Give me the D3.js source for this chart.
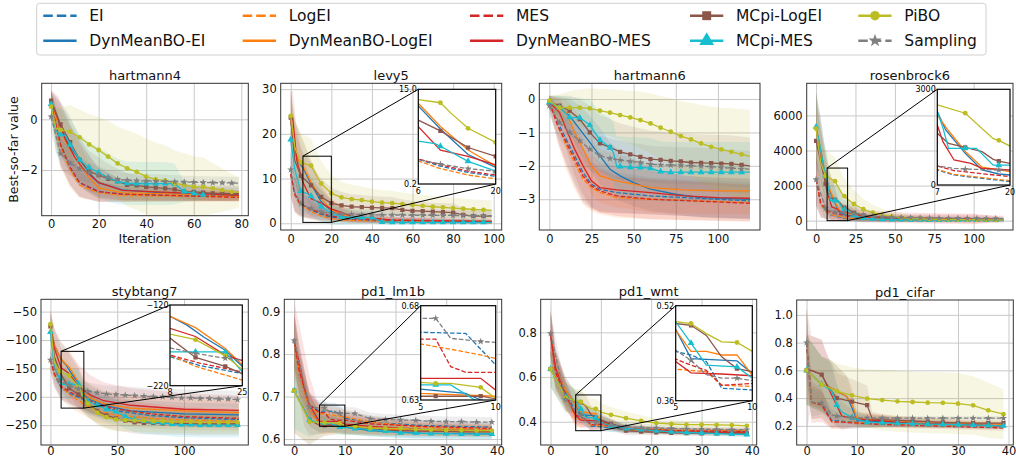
<!DOCTYPE html>
<html>
<head>
<meta charset="utf-8">
<script src="https://cdn.jsdelivr.net/npm/d3@7"></script>
<style>
body{margin:0;background:#fff}
svg{display:block;font-family:"DejaVu Sans",sans-serif}
</style>
</head>
<body>
<svg id="chart" width="1016" height="458"></svg>
<script>
// methods in legend order, every panel array below uses the same order
let methods = ['EI','DynMeanBO-EI','LogEI','DynMeanBO-LogEI','MES','DynMeanBO-MES','MCpi-LogEI','MCpi-MES','PiBO','Sampling']
let colors = ['#1f77b4','#1f77b4','#ff7f0e','#ff7f0e','#d62728','#d62728','#8c564b','#17becf','#bcbd22','#7f7f7f']
let dashed = [true,false,true,false,true,false,false,false,false,true]
let markers = [null,null,null,null,null,null,'square','triangle','circle','star']

let titles = ['hartmann4','levy5','hartmann6','rosenbrock6','stybtang7','pd1_lm1b','pd1_wmt','pd1_cifar']
let xTicks = [[0,20,40,60,80],[0,20,40,60,80,100],[0,25,50,75,100],[0,25,50,75,100],[0,50,100],[0,10,20,30,40],[0,10,20,30,40],[0,10,20,30,40]]
let yTicks = [[-2,0],[0,10,20,30],[-3,-2,-1,0],[0,2000,4000,6000],[-250,-200,-150,-100,-50],[0.6,0.7,0.8,0.9],[0.4,0.6,0.8],[0.2,0.4,0.6,0.8,1.0]]
let yFormats = ['d','d','d','d','d','.1f','.1f','.1f']
let markEvery = [4,5,6,6,7,3,3,3]
// zoomed windows: [x from, x to, y from, y to] and their corner labels
let insetRanges = [null,[6,20,0.2,15],null,[7,20,0,3000],[8,25,-220,-120],[5,10,0.63,0.68],[5,10,0.36,0.52],null]
let insetTicks = [null,['6','20','0.2','15.0'],null,['7','20','0','3000'],['8','25','−220','−120'],['5','10','0.63','0.68'],['5','10','0.36','0.52'],null]

// every point: [iteration, mean best-so-far, std]
let hartmann4 = [
  [[0,0.6,0.5],[4,-1.0,0.8],[8,-1.9,0.7],[12,-2.5,0.55],[20,-2.85,0.4],[30,-2.95,0.3],[50,-3.0,0.22],[79,-3.02,0.2]],
  [[0,0.7,0.4],[4,-0.3,0.9],[8,-1.1,0.9],[12,-1.6,0.8],[16,-2.1,0.7],[20,-2.5,0.55],[30,-2.78,0.4],[50,-2.92,0.3],[79,-2.96,0.25]],
  [[0,0.6,0.5],[4,-1.1,0.8],[8,-2.0,0.7],[12,-2.6,0.5],[20,-2.9,0.35],[30,-3.0,0.25],[79,-3.05,0.18]],
  [[0,0.7,0.4],[4,-0.5,0.9],[8,-1.2,0.9],[12,-1.8,0.8],[16,-2.3,0.6],[20,-2.7,0.45],[30,-2.9,0.3],[79,-3.0,0.2]],
  [[0,0.6,0.5],[4,-1.0,0.8],[8,-1.9,0.7],[12,-2.5,0.55],[20,-2.85,0.4],[30,-2.95,0.3],[79,-3.08,0.15]],
  [[0,0.7,0.45],[3,0.0,0.9],[6,-0.8,1.0],[10,-1.5,0.9],[14,-2.0,0.8],[20,-2.5,0.6],[30,-2.8,0.4],[79,-3.0,0.2]],
  [[0,0.74,0.4],[4,-0.2,0.9],[8,-0.9,1.0],[12,-1.6,0.9],[16,-2.05,0.8],[20,-2.2,0.7],[24,-2.35,0.6],[28,-2.45,0.5],[32,-2.58,0.45],[36,-2.6,0.4],[40,-2.66,0.4],[44,-2.69,0.35],[48,-2.72,0.35],[52,-2.76,0.3],[56,-2.85,0.3],[60,-2.86,0.3],[64,-2.89,0.3],[68,-2.92,0.3],[72,-2.92,0.3],[76,-2.93,0.3],[79,-2.93,0.3]],
  [[0,0.6,0.5],[2,-0.45,0.9],[4,-0.6,1.0],[6,-0.65,1.0],[8,-1.0,1.0],[12,-1.6,1.0],[16,-1.9,1.0],[20,-2.1,1.0],[24,-2.3,0.95],[28,-2.45,0.9],[32,-2.52,0.85],[36,-2.53,0.85],[40,-2.53,0.85],[44,-2.53,0.85],[48,-2.53,0.85],[52,-2.55,0.8],[56,-2.85,0.4],[60,-2.92,0.3],[64,-2.98,0.25]],
  [[0,0.5,0.3],[2,-0.35,0.8],[4,-0.42,0.9],[8,-0.49,1.06],[12,-0.71,1.1],[16,-0.99,1.2],[20,-1.21,1.3],[24,-1.47,1.4],[28,-1.74,1.45],[32,-1.93,1.5],[36,-2.07,1.5],[40,-2.26,1.5],[44,-2.37,1.45],[48,-2.42,1.4],[52,-2.53,1.3],[56,-2.59,1.25],[60,-2.66,1.2],[64,-2.66,1.15],[68,-2.72,1.0],[72,-2.79,0.85],[76,-2.86,0.7],[79,-2.87,0.6]],
  [[0,0.1,0.6],[4,-1.35,0.6],[8,-1.72,0.5],[12,-1.95,0.45],[16,-2.1,0.4],[20,-2.2,0.35],[24,-2.3,0.3],[28,-2.36,0.3],[32,-2.4,0.28],[36,-2.42,0.28],[40,-2.43,0.27],[44,-2.44,0.27],[48,-2.45,0.26],[52,-2.46,0.26],[56,-2.47,0.25],[60,-2.48,0.25],[64,-2.49,0.25],[68,-2.5,0.25],[72,-2.5,0.25],[76,-2.51,0.25],[79,-2.52,0.25]]
]

let levy5 = [
  [[0,11,5],[2,6.5,4],[4,4.8,3],[6,4.05,2.5],[10,3.0,2],[15,2.0,1.5],[20,1.4,1.1],[30,0.8,0.7],[50,0.4,0.4],[99,0.2,0.3]],
  [[0,23,6],[2,16,7],[4,13.5,7],[6,12.4,6],[10,8.8,5],[15,4.8,3.5],[20,2.8,2.2],[25,1.8,1.6],[30,1.2,1.1],[50,0.6,0.6],[99,0.3,0.4]],
  [[0,11,5],[2,6.3,4],[4,4.5,3],[6,3.8,2.5],[10,2.6,1.8],[15,1.6,1.2],[20,1.0,0.8],[30,0.6,0.5],[99,0.15,0.3]],
  [[0,23,6],[2,16,7],[4,13.8,7],[6,12.8,6],[10,9.2,5],[15,5.5,3.5],[20,3.0,2.3],[25,2.0,1.7],[30,1.4,1.2],[50,0.7,0.7],[99,0.4,0.4]],
  [[0,11,5],[2,6.5,4],[4,4.9,3],[6,4.1,2.5],[10,3.2,2],[15,2.2,1.5],[20,1.6,1.1],[30,0.9,0.7],[99,0.3,0.4]],
  [[0,23.5,6],[1,23.5,6],[3,14,7],[6,9.15,6],[10,5.5,4],[15,4.5,3],[20,3.2,2.2],[30,1.6,1.3],[50,0.7,0.7],[99,0.4,0.4]],
  [[0,23.6,6],[2,14,7],[5,10.6,6],[10,8.5,5],[15,5.9,4],[20,4.5,3.5],[25,4.0,3],[30,3.7,2.8],[35,3.6,2.7],[40,3.5,2.6],[45,3.45,2.5],[50,3.4,2.5],[55,3.0,2.3],[60,2.8,2.2],[65,2.7,2.1],[70,2.6,2],[75,2.5,2],[80,2.4,2],[85,1.9,1.7],[90,1.6,1.5],[95,1.6,1.5],[99,1.6,1.5]],
  [[0,18.7,6],[2,12,6],[5,7.2,5],[6,6.9,4.8],[9,6.5,4.5],[10,6.1,4.3],[15,3.75,3.5],[20,2.2,2.5],[25,1.4,1.8],[30,1.35,1.6],[35,1.3,1.5],[40,1.3,1.4],[45,0.3,0.6],[50,0.25,0.5],[55,0.25,0.5],[60,0.2,0.4],[65,0.2,0.4],[70,0.2,0.4],[75,0.2,0.4],[80,0.2,0.4],[85,0.2,0.4],[90,0.2,0.4],[95,0.2,0.4],[99,0.2,0.4]],
  [[0,24,5],[2,17,6],[5,13.6,6.5],[6,13.4,6.5],[10,12.9,6],[12,11.2,5.5],[15,8.9,5],[20,6.7,4],[25,5.8,3.5],[30,5.4,3.2],[35,5.2,3],[40,4.85,2.9],[45,4.6,2.8],[50,4.5,2.7],[55,4.3,2.6],[60,4.1,2.5],[65,3.9,2.5],[70,3.7,2.4],[75,3.55,2.4],[80,3.4,2.3],[85,3.25,2.3],[90,3.1,2.2],[95,3.0,2.2],[99,2.9,2.2]],
  [[0,12,4],[2,7,4],[5,4.4,3],[6,4.05,2.8],[10,3.3,2.3],[15,2.6,1.8],[20,2.2,1.5],[25,2.1,1.4],[30,2.0,1.4],[35,1.95,1.3],[40,1.9,1.3],[45,1.9,1.3],[50,1.85,1.3],[55,1.85,1.2],[60,1.8,1.2],[65,1.8,1.2],[70,1.8,1.2],[75,1.75,1.2],[80,1.75,1.2],[85,1.7,1.2],[90,1.7,1.2],[95,1.7,1.2],[99,1.7,1.2]]
]

let hartmann6 = [
  [[0,-0.1,0.2],[5,-0.7,0.5],[10,-1.2,0.7],[15,-1.7,0.8],[20,-2.2,0.8],[25,-2.55,0.7],[30,-2.7,0.65],[40,-2.8,0.6],[60,-2.9,0.55],[80,-2.95,0.55],[119,-3.05,0.55]],
  [[0,-0.1,0.2],[6,-0.25,0.3],[12,-0.5,0.5],[18,-0.9,0.7],[24,-1.3,0.8],[30,-1.7,0.85],[36,-2.1,0.8],[42,-2.3,0.75],[50,-2.5,0.7],[60,-2.7,0.65],[75,-2.85,0.6],[90,-2.95,0.6],[119,-3.0,0.6]],
  [[0,-0.1,0.2],[5,-0.8,0.5],[10,-1.4,0.7],[15,-1.9,0.8],[20,-2.4,0.75],[25,-2.65,0.7],[30,-2.8,0.65],[40,-2.95,0.6],[60,-3.0,0.6],[119,-3.1,0.55]],
  [[0,-0.1,0.2],[10,-0.4,0.4],[15,-1.0,0.7],[20,-1.5,0.8],[25,-2.0,0.85],[30,-2.3,0.8],[40,-2.45,0.8],[50,-2.55,0.75],[60,-2.65,0.75],[80,-2.72,0.7],[100,-2.75,0.7],[119,-2.75,0.7]],
  [[0,-0.1,0.2],[5,-0.8,0.5],[10,-1.3,0.7],[15,-1.8,0.8],[20,-2.3,0.8],[25,-2.6,0.7],[30,-2.75,0.65],[40,-2.9,0.6],[60,-3.0,0.6],[119,-3.12,0.55]],
  [[0,-0.1,0.2],[6,-0.4,0.4],[10,-0.9,0.6],[15,-1.5,0.8],[20,-2.0,0.85],[25,-2.45,0.8],[30,-2.65,0.75],[40,-2.72,0.7],[60,-2.8,0.65],[80,-2.9,0.6],[100,-2.95,0.6],[119,-2.97,0.6]],
  [[0,-0.1,0.2],[6,-0.2,0.3],[12,-0.35,0.45],[18,-0.6,0.6],[24,-1.0,0.8],[30,-1.33,0.85],[36,-1.45,0.85],[42,-1.58,0.85],[48,-1.66,0.85],[54,-1.73,0.85],[60,-1.8,0.85],[66,-1.82,0.85],[72,-1.85,0.85],[78,-1.87,0.85],[84,-1.9,0.85],[90,-1.91,0.85],[96,-1.92,0.85],[102,-1.93,0.85],[108,-1.94,0.85],[114,-1.97,0.85],[119,-2.0,0.85]],
  [[0,-0.1,0.2],[6,-0.25,0.35],[12,-0.55,0.6],[18,-0.56,0.6],[24,-0.78,0.75],[30,-1.23,0.85],[36,-1.45,0.9],[38,-1.6,0.9],[40,-2.02,0.9],[42,-2.02,0.9],[48,-2.04,0.9],[54,-2.05,0.9],[60,-2.07,0.9],[66,-2.17,0.9],[72,-2.19,0.9],[78,-2.19,0.9],[84,-2.19,0.9],[90,-2.19,0.9],[96,-2.19,0.9],[102,-2.19,0.9],[108,-2.19,0.9],[114,-2.19,0.9],[119,-2.19,0.9]],
  [[0,-0.05,0.15],[6,-0.26,0.4],[12,-0.26,0.5],[18,-0.26,0.55],[24,-0.28,0.6],[30,-0.35,0.65],[36,-0.41,0.7],[42,-0.48,0.75],[48,-0.55,0.8],[54,-0.63,0.85],[60,-0.73,0.9],[66,-0.86,0.95],[72,-0.98,1.0],[78,-1.11,1.05],[84,-1.21,1.1],[90,-1.33,1.15],[96,-1.43,1.2],[102,-1.51,1.25],[108,-1.58,1.3],[114,-1.66,1.35],[119,-1.72,1.4]],
  [[0,-0.2,0.3],[6,-0.7,0.5],[12,-1.0,0.6],[18,-1.25,0.65],[24,-1.5,0.65],[30,-1.7,0.6],[36,-1.78,0.6],[42,-1.83,0.58],[48,-1.87,0.56],[54,-1.9,0.55],[60,-1.95,0.55],[66,-1.97,0.55],[72,-1.98,0.55],[78,-1.99,0.55],[84,-2.0,0.55],[90,-2.01,0.55],[96,-2.03,0.55],[102,-2.05,0.55],[108,-2.07,0.55],[114,-2.09,0.55],[119,-2.1,0.55]]
]

let rosenbrock6 = [
  [[0,2350,1500],[3,900,700],[7,470,400],[10,314,300],[20,105,150],[40,60,100],[119,30,60]],
  [[0,5300,2000],[3,4000,1800],[5,3000,1500],[7,2300,1300],[8.5,1725,1100],[12,993,800],[15,470,500],[18,345,400],[20,314,350],[30,150,200],[60,70,120],[119,30,60]],
  [[0,2350,1500],[3,900,700],[7,490,400],[10,330,300],[20,136,160],[40,70,100],[119,30,60]],
  [[0,5300,2000],[3,4000,1800],[5,3000,1500],[7,2195,1300],[9,1700,1100],[12,1050,800],[15,560,500],[20,418,400],[30,180,220],[60,80,130],[119,35,60]],
  [[0,2350,1500],[3,1000,800],[7,596,500],[10,450,400],[20,261,250],[40,150,200],[100,100,250],[119,80,200]],
  [[0,5300,2000],[3,3500,1800],[5,2600,1500],[7,1880,1300],[8,1360,1100],[10,784,800],[13,680,600],[15,523,500],[20,470,450],[30,250,350],[60,150,300],[100,100,300],[119,80,120]],
  [[0,4550,2200],[6,2100,1500],[7,1620,1300],[9,1307,1100],[12,1181,900],[15,1045,800],[17,805,700],[18,750,650],[20,680,600],[24,450,450],[30,300,350],[36,220,250],[42,170,200],[48,140,180],[54,120,160],[60,110,150],[66,100,140],[72,90,130],[78,85,120],[84,80,110],[90,75,100],[96,70,100],[102,65,90],[108,60,90],[114,55,80],[119,55,80]],
  [[0,5350,2000],[3,4000,1800],[5,3000,1600],[6,2600,1500],[7,2300,1400],[8,1800,1200],[9,1150,900],[12,1150,900],[14,1150,850],[17,620,550],[18,620,550],[20,620,550],[24,300,350],[30,150,200],[36,100,150],[42,80,130],[48,70,120],[54,60,110],[60,50,100],[66,45,90],[72,40,80],[78,40,80],[84,35,70],[90,35,70],[96,30,60],[102,30,60],[108,30,60],[114,30,60],[119,30,60]],
  [[0,5250,1800],[3,3300,1600],[6,2550,1500],[7,2509,1450],[12,2250,1350],[17,1450,1100],[18,1400,1050],[20,1220,950],[24,950,800],[30,650,600],[36,460,450],[42,330,350],[48,230,280],[54,170,220],[60,130,180],[66,110,150],[72,90,130],[78,80,110],[84,70,100],[90,60,90],[96,55,80],[102,50,70],[108,45,60],[114,40,55],[119,40,50]],
  [[0,2350,1300],[6,700,600],[7,596,500],[10,523,400],[12,500,380],[18,470,350],[20,460,340],[24,400,300],[30,320,250],[36,260,220],[42,220,200],[48,200,190],[54,185,180],[60,170,170],[66,160,160],[72,150,150],[78,145,150],[84,140,140],[90,135,140],[96,130,130],[102,125,130],[108,120,120],[114,115,120],[119,110,120]]
]

let stybtang7 = [
  [[0,-135,20],[3,-160,22],[8,-184,22],[15,-195,20],[25,-205,20],[35,-215,18],[50,-225,18],[75,-233,17],[100,-237,17],[141,-240,16]],
  [[0,-75,25],[3,-110,30],[8,-134,30],[12,-145,30],[16,-160,28],[21,-176,26],[25,-196,25],[30,-205,24],[40,-215,22],[60,-225,20],[100,-230,20],[141,-232,20]],
  [[0,-135,20],[3,-162,22],[8,-182,22],[14,-196,22],[25,-213,20],[35,-225,20],[50,-233,18],[75,-238,18],[100,-241,18],[141,-243,17]],
  [[0,-75,25],[3,-110,30],[8,-134,30],[14,-148,30],[21,-174,28],[25,-194,26],[30,-203,25],[40,-212,23],[60,-220,22],[100,-225,22],[141,-228,22]],
  [[0,-135,20],[3,-160,22],[8,-182,22],[15,-192,20],[25,-203,20],[35,-213,19],[50,-222,18],[75,-230,18],[100,-235,18],[141,-238,17]],
  [[0,-75,30],[3,-115,35],[8,-149,35],[14,-159,38],[21,-182,38],[25,-189,38],[30,-197,35],[40,-207,32],[60,-215,30],[100,-222,28],[141,-224,26]],
  [[0,-76,25],[3,-130,30],[7,-155,28],[8,-161,28],[14,-185,26],[21,-196,25],[25,-205,24],[28,-212,24],[35,-225,22],[42,-233,22],[49,-238,21],[56,-242,20],[63,-245,20],[70,-246,20],[77,-246,20],[84,-247,20],[91,-247,20],[98,-247,20],[105,-248,20],[112,-248,20],[119,-248,20],[126,-248,20],[133,-248,20],[140,-248,20],[141,-248,20]],
  [[0,-86,25],[3,-150,25],[7,-168,25],[8,-178,25],[14,-178,25],[21,-178,25],[25,-203,25],[28,-208,24],[35,-215,23],[42,-222,23],[49,-226,22],[56,-235,22],[63,-240,22],[70,-243,22],[77,-245,22],[84,-246,22],[91,-248,22],[98,-249,22],[105,-249,22],[112,-250,22],[119,-250,22],[126,-250,22],[133,-250,22],[140,-250,22],[141,-250,22]],
  [[0,-72,20],[3,-140,25],[7,-155,25],[14,-163,25],[21,-183,24],[25,-200,23],[28,-212,22],[35,-228,22],[42,-236,21],[49,-240,21],[56,-241,20],[63,-242,20],[70,-242,20],[77,-243,20],[84,-243,20],[91,-244,20],[98,-244,20],[105,-244,20],[112,-245,20],[119,-245,20],[126,-245,20],[133,-245,20],[140,-245,20],[141,-245,20]],
  [[0,-135,15],[7,-172,15],[14,-180,15],[21,-186,15],[28,-190,15],[35,-193,15],[42,-195,15],[49,-196,15],[56,-197,15],[63,-198,15],[70,-199,15],[77,-200,15],[84,-200,15],[91,-201,15],[98,-202,15],[105,-202,15],[112,-203,15],[119,-203,15],[126,-204,15],[133,-204,15],[140,-205,15],[141,-205,15]]
]

let pd1_lm1b = [
  [[0,0.83,0.06],[1,0.75,0.05],[3,0.68,0.03],[5,0.6659,0.02],[8,0.6653,0.02],[10,0.6486,0.018],[15,0.64,0.015],[25,0.632,0.013],[39,0.628,0.012]],
  [[0,0.83,0.07],[1,0.76,0.06],[3,0.67,0.04],[5,0.6358,0.02],[8,0.6335,0.018],[9,0.63,0.017],[15,0.62,0.014],[25,0.614,0.012],[39,0.612,0.012]],
  [[0,0.83,0.06],[1,0.75,0.05],[3,0.675,0.03],[5,0.6597,0.02],[7,0.6569,0.02],[9,0.6539,0.018],[10,0.652,0.018],[15,0.64,0.015],[25,0.628,0.013],[39,0.622,0.012]],
  [[0,0.83,0.07],[1,0.76,0.06],[3,0.67,0.04],[5,0.6335,0.02],[10,0.632,0.017],[15,0.626,0.015],[25,0.62,0.013],[39,0.618,0.012]],
  [[0,0.83,0.06],[1,0.76,0.05],[3,0.68,0.03],[5,0.6623,0.02],[6,0.6623,0.02],[7,0.6477,0.018],[8,0.6447,0.018],[10,0.6447,0.017],[15,0.636,0.015],[25,0.63,0.013],[39,0.625,0.012]],
  [[0,0.83,0.09],[1,0.78,0.09],[2,0.72,0.09],[3,0.68,0.07],[5,0.6415,0.03],[9,0.6415,0.025],[10,0.6353,0.022],[15,0.63,0.018],[25,0.623,0.014],[39,0.62,0.012]],
  [[0,0.714,0.1],[3,0.645,0.06],[5,0.632,0.03],[6,0.632,0.025],[9,0.632,0.02],[12,0.628,0.017],[15,0.624,0.015],[18,0.621,0.014],[21,0.62,0.013],[24,0.619,0.013],[27,0.618,0.012],[30,0.618,0.012],[33,0.617,0.012],[36,0.617,0.012],[39,0.617,0.012]],
  [[0,0.714,0.09],[3,0.645,0.04],[5,0.638,0.025],[6,0.638,0.022],[7,0.638,0.02],[9,0.628,0.018],[12,0.625,0.016],[15,0.622,0.015],[18,0.619,0.014],[21,0.615,0.013],[24,0.614,0.013],[27,0.613,0.012],[30,0.613,0.012],[33,0.612,0.012],[36,0.612,0.012],[39,0.612,0.012]],
  [[0,0.714,0.1],[3,0.6405,0.05],[6,0.6388,0.03],[7,0.6388,0.028],[9,0.6367,0.025],[10,0.6309,0.022],[12,0.63,0.02],[15,0.626,0.018],[18,0.625,0.017],[21,0.625,0.016],[24,0.623,0.015],[27,0.622,0.015],[30,0.621,0.014],[33,0.621,0.014],[36,0.62,0.014],[39,0.62,0.014]],
  [[0,0.832,0.06],[3,0.676,0.02],[5,0.6733,0.018],[6,0.6733,0.018],[7,0.6627,0.016],[9,0.661,0.015],[10,0.6606,0.015],[12,0.66,0.015],[15,0.648,0.014],[18,0.646,0.013],[21,0.645,0.013],[24,0.644,0.012],[27,0.642,0.012],[30,0.641,0.012],[33,0.641,0.012],[36,0.64,0.012],[39,0.64,0.012]]
]

let pd1_wmt = [
  [[0,0.795,0.1],[1,0.63,0.08],[3,0.53,0.06],[5,0.443,0.04],[6,0.437,0.035],[7,0.426,0.03],[8,0.381,0.025],[10,0.378,0.02],[15,0.365,0.015],[25,0.358,0.012],[39,0.355,0.012]],
  [[0,0.795,0.1],[1,0.64,0.08],[3,0.54,0.06],[5,0.48,0.05],[6,0.431,0.04],[9,0.427,0.03],[10,0.406,0.025],[15,0.37,0.015],[25,0.36,0.012],[39,0.355,0.012]],
  [[0,0.795,0.1],[1,0.62,0.08],[3,0.52,0.06],[5,0.413,0.04],[7,0.409,0.03],[8,0.386,0.025],[10,0.384,0.02],[15,0.37,0.015],[25,0.362,0.012],[39,0.36,0.012]],
  [[0,0.795,0.1],[1,0.64,0.08],[3,0.54,0.06],[5,0.479,0.05],[6,0.443,0.04],[7,0.443,0.035],[8,0.437,0.03],[9,0.437,0.03],[10,0.403,0.025],[15,0.365,0.015],[25,0.355,0.012],[39,0.352,0.012]],
  [[0,0.795,0.1],[1,0.62,0.08],[3,0.52,0.06],[5,0.43,0.04],[6,0.42,0.035],[7,0.411,0.03],[8,0.386,0.025],[10,0.389,0.02],[15,0.368,0.015],[25,0.36,0.012],[39,0.356,0.012]],
  [[0,0.79,0.12],[1,0.64,0.09],[3,0.52,0.06],[5,0.426,0.04],[6,0.407,0.035],[8,0.405,0.03],[10,0.402,0.025],[15,0.37,0.015],[25,0.355,0.012],[39,0.35,0.012]],
  [[0,0.636,0.08],[3,0.51,0.07],[5,0.49,0.05],[6,0.487,0.05],[7,0.47,0.045],[8,0.434,0.04],[9,0.414,0.035],[10,0.409,0.03],[12,0.39,0.025],[15,0.36,0.02],[18,0.356,0.015],[21,0.353,0.013],[24,0.35,0.012],[27,0.349,0.012],[30,0.348,0.012],[33,0.348,0.012],[36,0.348,0.012],[39,0.348,0.012]],
  [[0,0.636,0.08],[3,0.51,0.06],[5,0.493,0.05],[6,0.457,0.045],[7,0.42,0.04],[9,0.417,0.035],[10,0.398,0.03],[12,0.38,0.025],[15,0.37,0.02],[18,0.365,0.015],[21,0.36,0.014],[24,0.355,0.013],[27,0.352,0.012],[30,0.35,0.012],[33,0.347,0.012],[36,0.345,0.012],[39,0.343,0.012]],
  [[0,0.636,0.08],[3,0.508,0.06],[5,0.493,0.055],[6,0.49,0.055],[7,0.473,0.05],[8,0.459,0.045],[9,0.458,0.045],[10,0.443,0.04],[12,0.431,0.035],[15,0.416,0.03],[18,0.404,0.025],[21,0.394,0.022],[24,0.39,0.02],[27,0.387,0.018],[30,0.387,0.017],[33,0.386,0.016],[36,0.385,0.015],[39,0.382,0.015]],
  [[0,0.795,0.1],[3,0.5,0.05],[5,0.445,0.04],[6,0.428,0.035],[7,0.404,0.03],[8,0.398,0.025],[9,0.398,0.025],[12,0.385,0.02],[15,0.378,0.018],[18,0.374,0.016],[21,0.372,0.015],[24,0.37,0.014],[27,0.368,0.013],[30,0.367,0.013],[33,0.366,0.012],[36,0.365,0.012],[39,0.365,0.012]]
]

let pd1_cifar = [
  [[0,0.8,0.25],[1,0.37,0.12],[3,0.36,0.1],[5,0.24,0.05],[8,0.23,0.03],[20,0.21,0.02],[39,0.2,0.02]],
  [[0,0.6,0.25],[3,0.5,0.2],[5,0.47,0.2],[8,0.41,0.15],[9,0.33,0.1],[10,0.24,0.05],[20,0.22,0.03],[39,0.2,0.02]],
  [[0,0.8,0.25],[1,0.37,0.12],[3,0.35,0.1],[5,0.23,0.05],[20,0.21,0.02],[39,0.2,0.02]],
  [[0,0.6,0.25],[3,0.5,0.2],[5,0.47,0.2],[8,0.41,0.15],[9,0.36,0.12],[10,0.25,0.05],[21,0.23,0.03],[39,0.21,0.02]],
  [[0,0.8,0.25],[1,0.37,0.15],[3,0.35,0.12],[5,0.23,0.05],[15,0.21,0.02],[39,0.185,0.02]],
  [[0,0.61,0.25],[3,0.57,0.25],[5,0.42,0.2],[7,0.27,0.1],[10,0.25,0.05],[20,0.22,0.03],[39,0.2,0.02]],
  [[0,0.6,0.45],[1,0.6,0.25],[3,0.57,0.25],[4,0.5,0.22],[6,0.4,0.18],[9,0.375,0.16],[12,0.35,0.14],[13,0.25,0.05],[15,0.245,0.04],[18,0.24,0.03],[21,0.235,0.03],[24,0.23,0.025],[27,0.225,0.025],[30,0.222,0.02],[33,0.22,0.02],[36,0.22,0.02],[39,0.22,0.02]],
  [[0,0.6,0.25],[3,0.5,0.2],[5,0.45,0.2],[6,0.35,0.15],[7,0.3,0.12],[9,0.26,0.08],[12,0.225,0.04],[15,0.222,0.03],[18,0.218,0.025],[21,0.215,0.02],[24,0.212,0.02],[27,0.21,0.02],[30,0.208,0.02],[33,0.205,0.02],[36,0.203,0.02],[39,0.2,0.02]],
  [[0,0.6,0.25],[3,0.498,0.2],[6,0.45,0.2],[9,0.42,0.2],[12,0.396,0.21],[15,0.386,0.22],[18,0.377,0.22],[21,0.372,0.22],[24,0.367,0.22],[27,0.366,0.22],[30,0.36,0.22],[33,0.348,0.21],[36,0.312,0.2],[39,0.284,0.18]],
  [[0,0.8,0.2],[1,0.37,0.1],[3,0.365,0.08],[5,0.28,0.04],[6,0.27,0.03],[9,0.26,0.02],[12,0.258,0.015],[15,0.257,0.015],[18,0.256,0.015],[21,0.256,0.015],[24,0.255,0.015],[27,0.255,0.015],[30,0.255,0.015],[33,0.255,0.015],[36,0.255,0.015],[39,0.255,0.015]]
]

let panelData = [hartmann4, levy5, hartmann6, rosenbrock6, stybtang7, pd1_lm1b, pd1_wmt, pd1_cifar]

// where each axes sits on the page: [left, top, right, bottom], plus axis limits
let layout = [
  {box:[41.7,83.3,248.3,215.7], xDom:[-3.95,82.95], yDom:[-3.80,1.42], pad:4.5},
  {box:[280.7,83.3,501.7,230], xDom:[-4.95,103.95], yDom:[-1.5,31.3], pad:5, inset:[418.3,89.3,495.7,184]},
  {box:[539.3,83.3,760,230], xDom:[-5.95,124.95], yDom:[-3.92,0.47], pad:5},
  {box:[806.7,83.3,1013,230], xDom:[-5.95,124.95], yDom:[-533,7834], pad:5, inset:[937.3,89.3,1010,185]},
  {box:[41,299.3,248.3,445], xDom:[-7.05,148.05], yDom:[-285,-28.3], pad:1.8, inset:[170,305,242.3,385.7]},
  {box:[284.3,299.3,501.7,445], xDom:[-1.95,40.95], yDom:[0.586,0.929], pad:1.8, inset:[420.7,305.7,495.7,400]},
  {box:[540.7,299.3,756.7,445], xDom:[-1.95,40.95], yDom:[0.296,0.948], pad:1.8, inset:[675.7,305.7,752.3,400.7]},
  {box:[796.7,300,1013.3,445], xDom:[-1.95,40.95], yDom:[0.062,1.107], pad:1.8}
]

let svg = d3.select('#chart')
let defs = svg.append('defs')

let symbolOf = (name) => {
  if (name == 'square') return d3.symbolSquare
  if (name == 'triangle') return d3.symbolTriangle
  if (name == 'circle') return d3.symbolCircle
  return d3.symbolStar
}
let markerSize = {square:18, triangle:20, circle:18, star:16}

// lines + markers of one panel into a group, with given scales
let drawSeries = (g, data, x, y, step) => {
  let line = d3.line().x(d => x(d[0])).y(d => y(d[1]))
  data.forEach((pts, k) => {
    g.append('path')
     .attr('d', line(pts))
     .attr('fill','none')
     .attr('stroke', colors[k])
     .attr('stroke-width', 1.3)
     .attr('stroke-dasharray', dashed[k] ? '4.6,2' : null)
    if (markers[k]) {
      let sym = d3.symbol().type(symbolOf(markers[k])).size(markerSize[markers[k]])
      g.selectAll(null)
       .data(pts.filter(d => d[0] % step === 0))
       .enter()
       .append('path')
       .attr('d', sym)
       .attr('transform', d => `translate(${x(d[0])},${y(d[1])})`)
       .attr('fill', colors[k])
    }
  })
}

let drawPanel = (i) => {
  let p = layout[i]
  let data = panelData[i]
  let [l,t,r,b] = p.box
  let x = d3.scaleLinear().domain(p.xDom).range([l,r])
  let y = d3.scaleLinear().domain(p.yDom).range([b,t])
  let g = svg.append('g')

  // grid lines
  let gx = g.append('g').attr('transform',`translate(0,${b})`)
            .call(d3.axisBottom(x).tickValues(xTicks[i]).tickSize(-(b-t)).tickFormat(''))
  let gy = g.append('g').attr('transform',`translate(${l},0)`)
            .call(d3.axisLeft(y).tickValues(yTicks[i]).tickSize(-(r-l)).tickFormat(''))
  ;[gx,gy].forEach(a => {
    a.select('.domain').remove()
    a.selectAll('line').attr('stroke','#c9c9c9').attr('stroke-width',1)
  })

  // tick labels
  let tx = g.append('g').attr('transform',`translate(0,${b})`)
            .call(d3.axisBottom(x).tickValues(xTicks[i]).tickSize(0).tickPadding(p.pad).tickFormat(d3.format('d')))
  let ty = g.append('g').attr('transform',`translate(${l},0)`)
            .call(d3.axisLeft(y).tickValues(yTicks[i]).tickSize(0).tickPadding(4).tickFormat(d3.format(yFormats[i])))
  ;[tx,ty].forEach(a => {
    a.select('.domain').remove()
    a.selectAll('text').attr('font-size','11.5px').attr('fill','#111').attr('font-family','"DejaVu Sans",sans-serif')
  })

  let clipId = 'clip' + i
  defs.append('clipPath').attr('id', clipId)
      .append('rect').attr('x',l).attr('y',t).attr('width',r-l).attr('height',b-t)
  let plot = g.append('g').attr('clip-path',`url(#${clipId})`)

  // std bands
  let area = d3.area().x(d => x(d[0])).y0(d => y(d[1]-d[2])).y1(d => y(d[1]+d[2]))
  data.forEach((pts, k) => {
    plot.append('path').attr('d', area(pts)).attr('fill', colors[k]).attr('fill-opacity', 0.13)
  })
  drawSeries(plot, data, x, y, markEvery[i])

  g.append('rect').attr('x',l).attr('y',t).attr('width',r-l).attr('height',b-t)
   .attr('fill','none').attr('stroke','#333').attr('stroke-width',1)

  g.append('text').attr('x',(l+r)/2).attr('y',t-3.5).attr('text-anchor','middle')
   .attr('font-size','13px').attr('fill','#111').text(titles[i])

  if (insetRanges[i]) {
    let [ix0,ix1,iy0,iy1] = insetRanges[i]
    let [il,it,ir,ib] = p.inset
    // zoom rectangle and connectors
    g.append('rect').attr('x',x(ix0)).attr('y',y(iy1)).attr('width',x(ix1)-x(ix0)).attr('height',y(iy0)-y(iy1))
     .attr('fill','none').attr('stroke','#000').attr('stroke-width',1)
    g.append('line').attr('x1',x(ix0)).attr('y1',y(iy1)).attr('x2',il).attr('y2',it).attr('stroke','#000').attr('stroke-width',1)
    g.append('line').attr('x1',x(ix1)).attr('y1',y(iy0)).attr('x2',ir).attr('y2',ib).attr('stroke','#000').attr('stroke-width',1)

    let xi = d3.scaleLinear().domain([ix0,ix1]).range([il,ir])
    let yi = d3.scaleLinear().domain([iy0,iy1]).range([ib,it])
    let ig = g.append('g')
    ig.append('rect').attr('x',il).attr('y',it).attr('width',ir-il).attr('height',ib-it).attr('fill','#fff')
    let iclip = 'iclip' + i
    defs.append('clipPath').attr('id', iclip)
        .append('rect').attr('x',il).attr('y',it).attr('width',ir-il).attr('height',ib-it)
    let ip = ig.append('g').attr('clip-path',`url(#${iclip})`)
    drawSeries(ip, data, xi, yi, markEvery[i])
    ig.append('rect').attr('x',il).attr('y',it).attr('width',ir-il).attr('height',ib-it)
      .attr('fill','none').attr('stroke','#000').attr('stroke-width',1.2)

    let lab = insetTicks[i]
    let fs = '8px'
    ig.append('text').attr('x',il).attr('y',ib+9.5).attr('text-anchor','middle').attr('font-size',fs).text(lab[0])
    ig.append('text').attr('x',ir).attr('y',ib+9.5).attr('text-anchor','middle').attr('font-size',fs).text(lab[1])
    ig.append('text').attr('x',il-1.5).attr('y',ib+3).attr('text-anchor','end').attr('font-size',fs).text(lab[2])
    ig.append('text').attr('x',il-1.5).attr('y',it+3).attr('text-anchor','end').attr('font-size',fs).text(lab[3])
  }
}

d3.range(8).forEach(drawPanel)

// axis labels only on the first panel
svg.append('text').attr('x',145).attr('y',243).attr('text-anchor','middle').attr('font-size','12.5px').attr('fill','#111').text('Iteration')
svg.append('text').attr('transform','translate(17.5,149.5) rotate(-90)').attr('text-anchor','middle')
   .attr('font-size','12.5px').attr('fill','#111').text('Best-so-far value')

// legend, two rows, column major
let legendCols = [43.3, 242.7, 470, 690, 858.3]
let legend = svg.append('g')
legend.append('rect').attr('x',36.7).attr('y',3.3).attr('width',949.3).attr('height',51.7)
      .attr('rx',3).attr('fill','#fff').attr('stroke','#d0d0d0').attr('stroke-width',1)
methods.forEach((m, k) => {
  let cx = legendCols[Math.floor(k/2)]
  let cy = k % 2 == 0 ? 15.7 : 40.7
  legend.append('line').attr('x1',cx).attr('x2',cx+33.3).attr('y1',cy).attr('y2',cy)
        .attr('stroke',colors[k]).attr('stroke-width',2.6)
        .attr('stroke-dasharray', dashed[k] ? '9.5,4' : null)
  if (markers[k]) {
    let big = {square:80, triangle:95, circle:70, star:55}
    legend.append('path').attr('d', d3.symbol().type(symbolOf(markers[k])).size(big[markers[k]]))
          .attr('transform',`translate(${cx+16.7},${cy})`).attr('fill',colors[k])
  }
  legend.append('text').attr('x',cx+46).attr('y',cy+5.5).attr('font-size','15.5px').attr('fill','#111').text(m)
})
</script>
</body>
</html>
